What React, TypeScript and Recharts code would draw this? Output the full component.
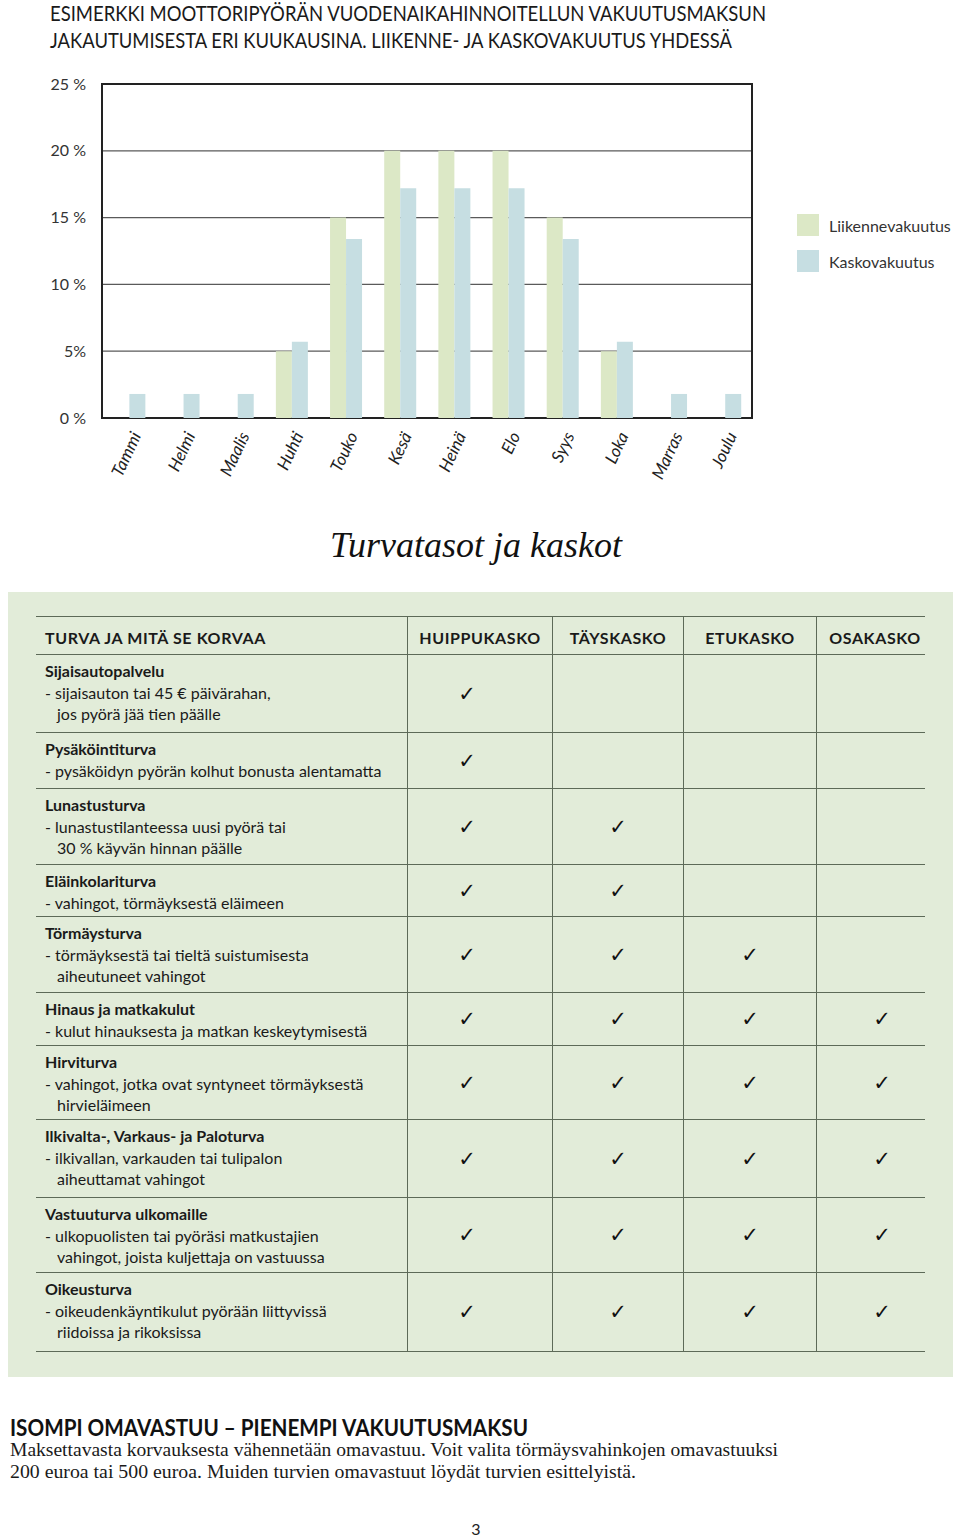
import { BarChart, Bar, XAxis, YAxis, CartesianGrid, Legend, ReferenceArea } from "recharts";

const months = ["Tammi", "Helmi", "Maalis", "Huhti", "Touko", "Kesä", "Heinä", "Elo", "Syys", "Loka", "Marras", "Joulu"];
const liikenne = [0, 0, 0, 5, 15, 20, 20, 20, 15, 5, 0, 0];
const kasko = [1.8, 1.8, 1.8, 5.7, 13.4, 17.2, 17.2, 17.2, 13.4, 5.7, 1.8, 1.8];
const yTicks = [0, 5, 10, 15, 20, 25];
const yLabels = ["0 %", "5%", "10 %", "15 %", "20 %", "25 %"];
const seriesNames = ["Liikennevakuutus", "Kaskovakuutus"];
const seriesColors = ["#dce8c6", "#c6dee2"];

const titleLines = [
  "ESIMERKKI MOOTTORIPYÖRÄN VUODENAIKAHINNOITELLUN VAKUUTUSMAKSUN",
  "JAKAUTUMISESTA ERI KUUKAUSINA. LIIKENNE- JA KASKOVAKUUTUS YHDESSÄ",
];

const packages = ["HUIPPUKASKO", "TÄYSKASKO", "ETUKASKO", "OSAKASKO"];
const coverNames = [
  "Sijaisautopalvelu",
  "Pysäköintiturva",
  "Lunastusturva",
  "Eläinkolariturva",
  "Törmäysturva",
  "Hinaus ja matkakulut",
  "Hirviturva",
  "Ilkivalta-, Varkaus- ja Paloturva",
  "Vastuuturva ulkomaille",
  "Oikeusturva",
];
const coverTexts = [
  ["sijaisauton tai 45 € päivärahan,", "jos pyörä jää tien päälle"],
  ["pysäköidyn pyörän kolhut bonusta alentamatta"],
  ["lunastustilanteessa uusi pyörä tai", "30 % käyvän hinnan päälle"],
  ["vahingot, törmäyksestä eläimeen"],
  ["törmäyksestä tai tieltä suistumisesta", "aiheutuneet vahingot"],
  ["kulut hinauksesta ja matkan keskeytymisestä"],
  ["vahingot, jotka ovat syntyneet törmäyksestä", "hirvieläimeen"],
  ["ilkivallan, varkauden tai tulipalon", "aiheuttamat vahingot"],
  ["ulkopuolisten tai pyöräsi matkustajien", "vahingot, joista kuljettaja on vastuussa"],
  ["oikeudenkäyntikulut pyörään liittyvissä", "riidoissa ja rikoksissa"],
];
// how many packages (from the left) include the cover
const coverLevels = [1, 1, 2, 2, 3, 4, 4, 4, 4, 4];

const noteTitle = "ISOMPI OMAVASTUU – PIENEMPI VAKUUTUSMAKSU";
const noteLines = [
  "Maksettavasta korvauksesta vähennetään omavastuu. Voit valita törmäysvahinkojen omavastuuksi",
  "200 euroa tai 500 euroa. Muiden turvien omavastuut löydät turvien esittelyistä.",
];

const chartData = months.map((m, i) => ({ month: m, liikenne: liikenne[i], kasko: kasko[i] }));

// table layout
const rowHeights = [78, 56, 76, 52, 76, 53, 74, 78, 75, 79];
const colWidths = [371, 145, 131, 133, 109];
const lineColor = "#5d6a58";
const sans = "Lato, 'Open Sans', sans-serif";

const MonthTick = (props: any) => {
  const { x, y, payload } = props;
  const ax = x + 7;
  const ay = y + 7;
  return (
    <text
      x={ax}
      y={ay}
      dy="0.35em"
      transform={`rotate(-65 ${ax} ${ay})`}
      textAnchor="end"
      fontStyle="italic"
      fontSize={17}
      fontFamily={sans}
      fill="#222"
    >
      {payload.value}
    </text>
  );
};

// legend drawn in series order (recharts sorts by name otherwise)
const LegendBox = () => (
  <div style={{ fontFamily: sans, fontSize: 16, color: "#333" }}>
    {seriesNames.map((n, i) => (
      <div key={n} style={{ display: "flex", alignItems: "center", height: 22, marginBottom: 14 }}>
        <span style={{ width: 22, height: 22, background: seriesColors[i], marginRight: 10, display: "inline-block" }} />
        {n}
      </div>
    ))}
  </div>
);

const Check = () => <span style={{ fontFamily: "'DejaVu Sans'", fontSize: 21, color: "#111" }}>✓</span>;

const App = () => {
  return (
    <div style={{ position: "relative", width: 960, height: 1538, overflow: "hidden", background: "#fff" }}>
      <style>{"body{margin:0;overflow:hidden}"}</style>

      <svg width={960} height={1538} style={{ position: "absolute", left: 0, top: 0 }}>
        {titleLines.map((t, i) => (
          <text
            key={t}
            x={50}
            y={21 + i * 27}
            fontFamily={sans}
            fontSize={21}
            fill="#1a1a1a"
            textLength={i === 0 ? 716 : 682}
            lengthAdjust="spacingAndGlyphs"
          >
            {t}
          </text>
        ))}
        <text
          x={330}
          y={557}
          fontFamily="'Liberation Serif', serif"
          fontStyle="italic"
          fontSize={36}
          fill="#111"
          textLength={292}
          lengthAdjust="spacingAndGlyphs"
        >
          Turvatasot ja kaskot
        </text>
        <rect x={8} y={592} width={945} height={785} fill="#e2ecd9" />
        <text
          x={10}
          y={1436}
          fontFamily={sans}
          fontWeight={700}
          fontSize={22}
          fill="#111"
          textLength={518}
          lengthAdjust="spacingAndGlyphs"
        >
          {noteTitle}
        </text>
        {noteLines.map((t, i) => (
          <text
            key={t}
            x={10}
            y={1456 + i * 22}
            fontFamily="'Liberation Serif', serif"
            fontSize={18}
            fill="#1a1a1a"
            textLength={i === 0 ? 768 : 626}
            lengthAdjust="spacingAndGlyphs"
          >
            {t}
          </text>
        ))}
        <text x={476} y={1535} textAnchor="middle" fontFamily={sans} fontSize={16} fill="#222">
          3
        </text>
      </svg>

      <div style={{ position: "absolute", left: 0, top: 0 }}>
        <BarChart
          width={960}
          height={500}
          data={chartData}
          margin={{ top: 84, right: 208, left: 0, bottom: 0 }}
          barCategoryGap="21%"
          barGap={0}
        >
          <CartesianGrid vertical={false} stroke="#5a5a5a" strokeWidth={1.2} />
          <XAxis
            dataKey="month"
            height={82}
            axisLine={false}
            tickLine={false}
            interval={0}
            tick={(p: any) => <MonthTick {...p} />}
          />
          <YAxis
            width={102}
            domain={[0, 25]}
            ticks={yTicks}
            tickFormatter={(v: number) => yLabels[yTicks.indexOf(v)]}
            axisLine={false}
            tickLine={false}
            tickSize={0}
            tickMargin={16}
            tick={{ fill: "#333", fontSize: 16, fontFamily: sans }}
          />
          <Legend
            layout="horizontal"
            verticalAlign="middle"
            align="center"
            wrapperStyle={{ left: 797, top: 214, width: 163 }}
            content={() => <LegendBox />}
          />
          <Bar dataKey="liikenne" name={seriesNames[0]} fill={seriesColors[0]} isAnimationActive={false} />
          <Bar dataKey="kasko" name={seriesNames[1]} fill={seriesColors[1]} isAnimationActive={false} />
          <ReferenceArea y1={0} y2={25} fill="none" fillOpacity={0} stroke="#222" strokeWidth={2} ifOverflow="visible" />
        </BarChart>
      </div>

      <div
        style={{
          position: "absolute",
          left: 36,
          top: 616,
          width: colWidths.reduce((a, b) => a + b, 0),
          fontFamily: sans,
          color: "#1a1a1a",
        }}
      >
        <div
          style={{
            display: "flex",
            height: 39,
            boxSizing: "border-box",
            borderTop: `1.5px solid ${lineColor}`,
            borderBottom: `1.5px solid ${lineColor}`,
            fontWeight: 700,
            fontSize: 16,
            letterSpacing: 0.6,
          }}
        >
          <div style={{ width: colWidths[0], paddingLeft: 9, boxSizing: "border-box", display: "flex", alignItems: "center", paddingTop: 4 }}>
            TURVA JA MITÄ SE KORVAA
          </div>
          {packages.map((p, j) => (
            <div
              key={p}
              style={{
                width: colWidths[j + 1],
                borderLeft: `1.5px solid ${lineColor}`,
                boxSizing: "border-box",
                display: "flex",
                alignItems: "center",
                justifyContent: "center",
                paddingTop: 4,
                paddingLeft: j === 3 ? 8 : 0,
              }}
            >
              {p}
            </div>
          ))}
        </div>
        {coverNames.map((name, i) => (
          <div
            key={name}
            style={{ display: "flex", height: rowHeights[i], boxSizing: "border-box", borderBottom: `1.5px solid ${lineColor}` }}
          >
            <div style={{ width: colWidths[0], paddingLeft: 9, paddingTop: 5, boxSizing: "border-box", fontSize: 16, lineHeight: "21.5px" }}>
              <div style={{ fontWeight: 700 }}>{name}</div>
              {coverTexts[i].map((t, k) => (
                <div key={t} style={{ paddingLeft: k === 0 ? 0 : 12 }}>
                  {k === 0 ? "- " + t : t}
                </div>
              ))}
            </div>
            {packages.map((p, j) => (
              <div
                key={p}
                style={{
                  width: colWidths[j + 1],
                  borderLeft: `1.5px solid ${lineColor}`,
                  boxSizing: "border-box",
                  display: "flex",
                  alignItems: "center",
                  justifyContent: "center",
                  paddingRight: j === 0 ? 26 : 0,
                  paddingLeft: j === 3 ? 22 : 0,
                }}
              >
                {j < coverLevels[i] ? <Check /> : null}
              </div>
            ))}
          </div>
        ))}
      </div>
    </div>
  );
};

export default App;
